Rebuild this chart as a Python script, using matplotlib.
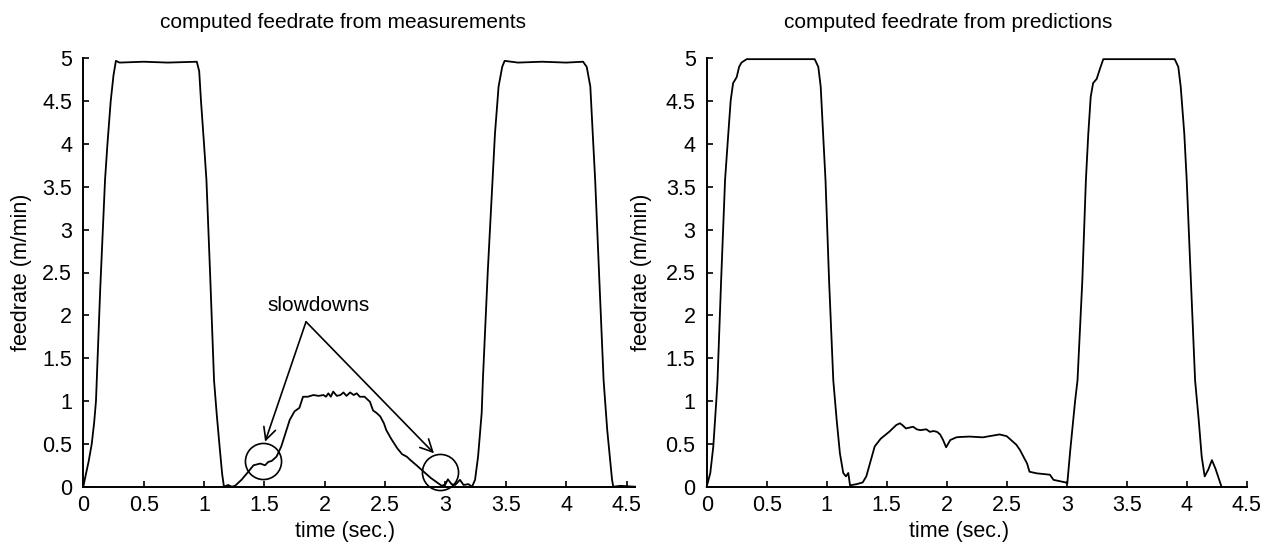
import matplotlib
matplotlib.use("Agg")
import matplotlib.pyplot as plt

plt.rcParams['font.family'] = ['Liberation Sans', 'DejaVu Sans']

# feedrate computed from measurements (time in sec., feedrate in m/min)
meas_t = [0.0, 0.022, 0.045, 0.07, 0.09, 0.105, 0.14, 0.18, 0.2, 0.227, 0.25, 0.27,
          0.3, 0.5, 0.7, 0.94, 0.96, 0.975, 1.0, 1.02, 1.05, 1.083, 1.105, 1.127, 1.15, 1.165,
          1.2, 1.23, 1.257, 1.31, 1.367, 1.41, 1.465, 1.505, 1.533, 1.56, 1.6, 1.64,
          1.71, 1.75, 1.79, 1.82, 1.86, 1.906, 1.95, 1.99, 2.01, 2.03, 2.05, 2.07, 2.1,
          2.13, 2.155, 2.18, 2.21, 2.24, 2.265, 2.29, 2.33, 2.375, 2.40, 2.43, 2.46,
          2.49, 2.51, 2.55, 2.60, 2.64, 2.68, 2.71, 2.76, 2.82, 2.84, 2.88, 2.93,
          2.97, 3.0, 3.02, 3.05, 3.08, 3.12, 3.15, 3.19, 3.22, 3.245, 3.27, 3.30,
          3.31, 3.35, 3.39, 3.41, 3.44, 3.47, 3.49, 3.6, 3.8, 4.0, 4.14, 4.17, 4.20,
          4.22, 4.24, 4.275, 4.31, 4.34, 4.38, 4.39, 4.45, 4.57]
meas_v = [0.0, 0.15, 0.3, 0.5, 0.75, 1.0, 2.3, 3.58, 4.0, 4.5, 4.8, 4.97,
          4.95, 4.96, 4.95, 4.96, 4.85, 4.5, 4.0, 3.58, 2.5, 1.24, 0.85, 0.5, 0.15, 0.0,
          0.02, 0.0, 0.01, 0.08, 0.175, 0.25, 0.27, 0.25, 0.29, 0.3, 0.35, 0.47,
          0.78, 0.88, 0.92, 1.05, 1.05, 1.07, 1.06, 1.07, 1.05, 1.09, 1.05, 1.11, 1.06,
          1.07, 1.10, 1.06, 1.10, 1.07, 1.09, 1.05, 1.05, 0.99, 0.89, 0.86, 0.82,
          0.74, 0.66, 0.56, 0.45, 0.38, 0.35, 0.31, 0.25, 0.175, 0.15, 0.1, 0.05,
          0.01, 0.03, 0.086, 0.03, 0.02, 0.08, 0.02, 0.03, 0.0, 0.08, 0.35, 0.86,
          1.25, 2.5, 3.58, 4.12, 4.67, 4.9, 4.97, 4.95, 4.96, 4.95, 4.96, 4.9, 4.67,
          4.12, 3.58, 2.4, 1.24, 0.66, 0.08, 0.0, 0.01, 0.0]

# feedrate computed from predictions
pred_t = [0.0, 0.03, 0.055, 0.08, 0.09, 0.12, 0.153, 0.18, 0.2, 0.22, 0.25, 0.27,
          0.29, 0.333, 0.5, 0.7, 0.9, 0.93, 0.95, 0.97, 0.99, 1.02, 1.055, 1.083, 1.11,
          1.138, 1.16, 1.18, 1.195, 1.21, 1.25, 1.30, 1.33, 1.36, 1.40, 1.45, 1.52,
          1.58, 1.61, 1.63, 1.66, 1.69, 1.72, 1.75, 1.78, 1.83, 1.86, 1.89, 1.92, 1.945,
          1.97, 1.995, 2.03, 2.08, 2.11, 2.19, 2.30, 2.44, 2.5, 2.58, 2.61, 2.64, 2.67,
          2.69, 2.75, 2.86, 2.89, 2.99, 3.005, 3.03, 3.07, 3.09, 3.13, 3.16, 3.18, 3.2,
          3.22, 3.25, 3.28, 3.305, 3.5, 3.7, 3.9, 3.93, 3.95, 3.98, 4.0, 4.035, 4.07,
          4.10, 4.125, 4.15, 4.18, 4.21, 4.24, 4.29]
pred_v = [0.0, 0.16, 0.47, 1.0, 1.24, 2.4, 3.58, 4.12, 4.51, 4.71, 4.78, 4.9,
          4.95, 4.99, 4.99, 4.99, 4.99, 4.9, 4.67, 4.12, 3.58, 2.4, 1.24, 0.78, 0.39,
          0.16, 0.12, 0.16, 0.01, 0.02, 0.03, 0.05, 0.12, 0.27, 0.47, 0.56, 0.64,
          0.72, 0.74, 0.72, 0.68, 0.69, 0.70, 0.67, 0.66, 0.67, 0.64, 0.65, 0.64, 0.61,
          0.545, 0.46, 0.545, 0.576, 0.58, 0.585, 0.576, 0.61, 0.59, 0.49, 0.43, 0.35, 0.27,
          0.175, 0.156, 0.14, 0.08, 0.05, 0.04, 0.43, 1.0, 1.24, 2.4, 3.58, 4.12, 4.55,
          4.71, 4.76, 4.89, 4.99, 4.99, 4.99, 4.99, 4.9, 4.67, 4.12, 3.58, 2.4, 1.24,
          0.78, 0.35, 0.12, 0.2, 0.31, 0.21, 0.0]

x_ticks = [0, 0.5, 1, 1.5, 2, 2.5, 3, 3.5, 4, 4.5]
y_ticks = [0, 0.5, 1, 1.5, 2, 2.5, 3, 3.5, 4, 4.5, 5]
tick_labels_x = ['0', '0.5', '1', '1.5', '2', '2.5', '3', '3.5', '4', '4.5']
tick_labels_y = ['0', '0.5', '1', '1.5', '2', '2.5', '3', '3.5', '4', '4.5', '5']

# slowdown markers on the measured curve
slow_t = [1.486, 2.955]
slow_v = [0.303, 0.175]
arrow_tips = [(1.506, 0.525), (2.905, 0.39)]
arrow_apex = (1.845, 1.925)

W, H = 1263, 551
fig = plt.figure(figsize=(W / 100, H / 100), dpi=100)
ax1 = fig.add_axes([83.3 / W, 1 - 486.7 / H, (635 - 83.3) / W, (486.7 - 58.3) / H])
ax2 = fig.add_axes([706.7 / W, 1 - 486.7 / H, 540 / W, (486.7 - 58.3) / H])


def style_axes(ax, xmax):
    ax.set_xlim(0, xmax)
    ax.set_ylim(0, 5)
    ax.spines['top'].set_visible(False)
    ax.spines['right'].set_visible(False)
    for s in ['left', 'bottom']:
        ax.spines[s].set_linewidth(1.4)
    ax.set_xticks(x_ticks)
    ax.set_xticklabels(tick_labels_x)
    ax.set_yticks(y_ticks)
    ax.set_yticklabels(tick_labels_y)
    ax.tick_params(direction='in', length=4.5, width=1.2, labelsize=15.5)
    ax.tick_params(axis='x', pad=6)
    ax.tick_params(axis='y', pad=8)


ax1.plot(meas_t, meas_v, color='black', linewidth=1.3, clip_on=False)
ax2.plot(pred_t, pred_v, color='black', linewidth=1.3, clip_on=False)
style_axes(ax1, 4.57)
style_axes(ax2, 4.5)

# circles and arrows pointing at slowdowns
ax1.plot(slow_t, slow_v, 'o', ms=26, mfc='none', mec='black', mew=1.2, clip_on=False)
for tip in arrow_tips:
    ax1.annotate('', xy=tip, xytext=arrow_apex,
                 arrowprops=dict(arrowstyle='->', color='black', lw=1.2,
                                 mutation_scale=22, shrinkA=0, shrinkB=0))
ax1.text(1.945, 2.12, 'slowdowns', fontsize=15, ha='center', va='center')

# titles and axis labels
fig.text(343 / W, 1 - 22 / H, 'computed feedrate from measurements', fontsize=15, ha='center', va='center')
fig.text(948 / W, 1 - 22 / H, 'computed feedrate from predictions', fontsize=15, ha='center', va='center')
fig.text(345 / W, 1 - 532 / H, 'time (sec.)', fontsize=15.5, ha='center', va='center')
fig.text(959 / W, 1 - 532 / H, 'time (sec.)', fontsize=15.5, ha='center', va='center')
fig.text(22 / W, 1 - 272.5 / H, 'feedrate (m/min)', fontsize=15.5, ha='center', va='center', rotation=90)
fig.text(642 / W, 1 - 272.5 / H, 'feedrate (m/min)', fontsize=15.5, ha='center', va='center', rotation=90)

fig.savefig('out.png', dpi=100)
